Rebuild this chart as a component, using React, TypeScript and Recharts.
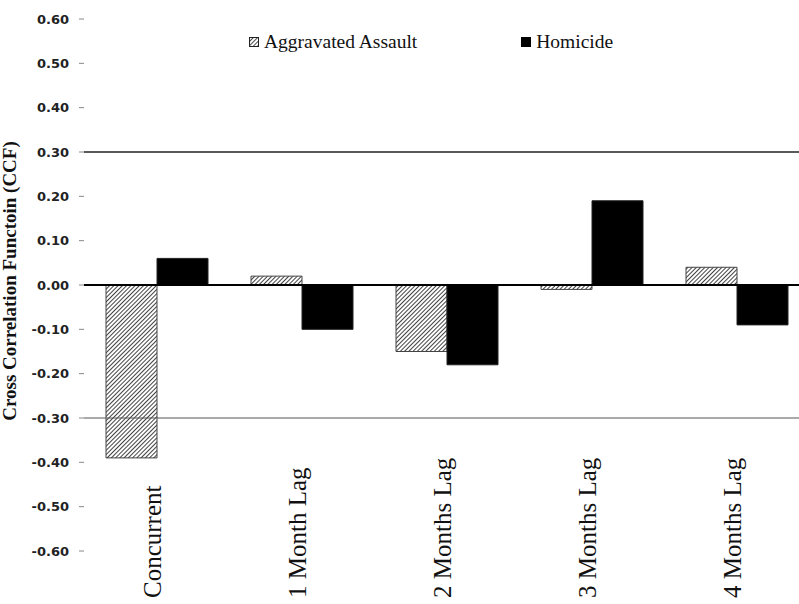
import { BarChart, Bar, XAxis, YAxis, ReferenceLine, Legend } from 'recharts'

const categories = ['Concurrent', '1 Month Lag', '2 Months Lag', '3 Months Lag', '4 Months Lag']
const assaultValues = [-0.39, 0.02, -0.15, -0.01, 0.04]
const homicideValues = [0.06, -0.1, -0.18, 0.19, -0.09]
const yTicks = [-0.6, -0.5, -0.4, -0.3, -0.2, -0.1, 0, 0.1, 0.2, 0.3, 0.4, 0.5, 0.6]
const guideLines = [0.3, -0.3]

const seriesNames = { assault: 'Aggravated Assault', homicide: 'Homicide' }

const data = categories.map((name, i) => ({
  name,
  assault: assaultValues[i],
  homicide: homicideValues[i],
}))

const serif = "'Liberation Serif', 'Times New Roman', serif"

function XTick({ x, y, payload }: any) {
  const tx = x + 4
  const ty = y + 47
  return (
    <text
      x={tx}
      y={ty}
      transform={`rotate(-90, ${tx}, ${ty})`}
      textAnchor="start"
      fontFamily={serif}
      fontSize={25}
      fill="#111"
    >
      {payload.value}
    </text>
  )
}

function YLabel({ viewBox }: any) {
  const cx = 16
  const cy = viewBox.y + viewBox.height / 2 - 4
  return (
    <text
      x={cx}
      y={cy}
      transform={`rotate(-90, ${cx}, ${cy})`}
      textAnchor="middle"
      fontFamily={serif}
      fontWeight="bold"
      fontSize={19}
      fill="#111"
    >
      Cross Correlation Functoin (CCF)
    </text>
  )
}

function HatchIcon() {
  return (
    <svg width={10} height={10} style={{ display: 'block' }}>
      <defs>
        <pattern id="hatchIcon" patternUnits="userSpaceOnUse" width={3} height={3} patternTransform="rotate(45)">
          <line x1={0} y1={0} x2={0} y2={3} stroke="#000" strokeWidth={1.4} />
        </pattern>
      </defs>
      <rect x={0.5} y={0.5} width={9} height={9} fill="url(#hatchIcon)" stroke="#222" strokeWidth={1} />
    </svg>
  )
}

const legendText = { fontFamily: serif, fontSize: 19.5, color: '#111', marginLeft: 5, lineHeight: '22px' }

function LegendContent() {
  return (
    <div style={{ display: 'flex', alignItems: 'center', fontFamily: serif }}>
      <HatchIcon />
      <span style={legendText}>{seriesNames.assault}</span>
      <div style={{ width: 10, height: 10, background: '#000', marginLeft: 104 }} />
      <span style={legendText}>{seriesNames.homicide}</span>
    </div>
  )
}

export default function App() {
  return (
    <div style={{ position: 'absolute', left: 0, top: 0, width: 799, height: 604, overflow: 'hidden', background: '#fff' }}>
      <BarChart
        width={830}
        height={604}
        data={data}
        margin={{ top: 19, right: 21, bottom: 0, left: 0 }}
        barSize={51}
        barGap={0}
      >
        <defs>
          <pattern id="hatch" patternUnits="userSpaceOnUse" width={3} height={3} patternTransform="rotate(45)">
            <line x1={0} y1={0} x2={0} y2={3} stroke="#111" strokeWidth={1.6} />
          </pattern>
        </defs>
        <XAxis
          dataKey="name"
          axisLine={false}
          tickLine={false}
          tickSize={0}
          tickMargin={0}
          height={53}
          interval={0}
          tick={<XTick />}
        />
        <YAxis
          width={84}
          domain={[-0.6, 0.6]}
          ticks={yTicks}
          interval={0}
          axisLine={false}
          tickSize={5}
          tickMargin={10}
          tickLine={{ stroke: '#888' }}
          tickFormatter={(v: number) => v.toFixed(2)}
          tick={{ fontFamily: "'DejaVu Sans', sans-serif", fontWeight: 'bold', fontSize: 13, fill: '#222' }}
          label={<YLabel />}
        />
        <Legend
          layout="horizontal"
          verticalAlign="middle"
          align="center"
          content={<LegendContent />}
          wrapperStyle={{ top: 31, left: 249, width: 'auto', height: 'auto', fontFamily: serif }}
        />
        {guideLines.map((v, i) => (
          <ReferenceLine key={v} y={v} stroke={i === 0 ? '#222' : '#555'} strokeWidth={i === 0 ? 1.6 : 1} />
        ))}
        <Bar dataKey="assault" name={seriesNames.assault} fill="url(#hatch)" stroke="#444" strokeWidth={1} isAnimationActive={false} />
        <Bar dataKey="homicide" name={seriesNames.homicide} fill="#000" stroke="#222" strokeWidth={1} isAnimationActive={false} />
        <ReferenceLine y={0} stroke="#000" strokeWidth={2} />
      </BarChart>
    </div>
  )
}
